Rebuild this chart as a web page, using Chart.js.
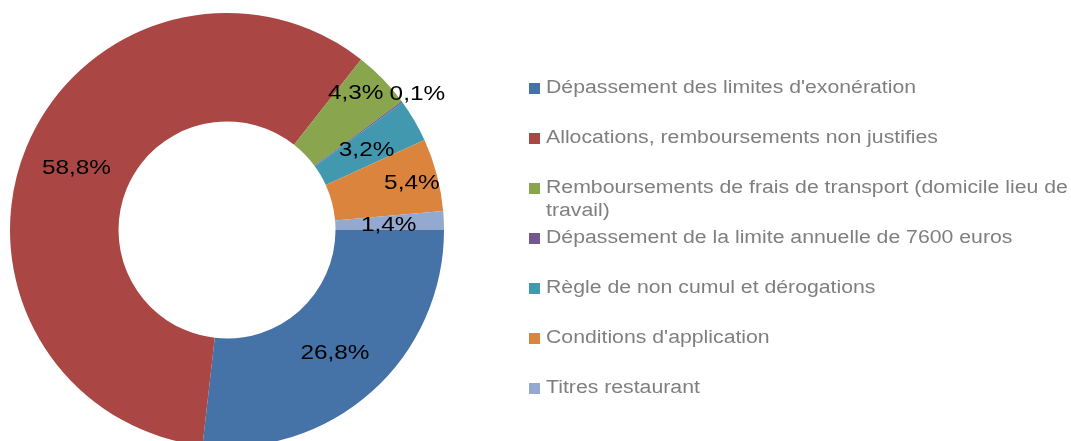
<!DOCTYPE html>
<html>
<head>
<meta charset="utf-8">
<script src="https://cdn.jsdelivr.net/npm/chart.js@4/dist/chart.umd.min.js"></script>
<style>
html, body { margin: 0; padding: 0; background: #fff; overflow: hidden; }
#wrap { position: relative; width: 1071px; height: 460px; }
</style>
</head>
<body>
<div id="wrap"><canvas id="donut"></canvas></div>
<script>
// Données du graphique
const categories = [
    "Dépassement des limites d'exonération",
    "Allocations, remboursements non justifies",
    "Remboursements de frais de transport (domicile lieu de travail)",
    "Dépassement de la limite annuelle de 7600 euros",
    "Règle de non cumul et dérogations",
    "Conditions d'application",
    "Titres restaurant"
];
const shares = [26.8, 58.8, 4.3, 0.1, 3.2, 5.4, 1.4];
const sliceColors = ['#4572A7', '#AA4643', '#89A54E', '#71588F', '#4198AF', '#DB843D', '#93A9CF'];

const FONT = '"Liberation Sans", Arial, sans-serif';

// texte un peu élargi, comme dans l'original
function wideText(ctx, txt, x, y, sx) {
    ctx.save();
    ctx.translate(x, y);
    ctx.scale(sx, 1);
    ctx.fillText(txt, 0, 0);
    ctx.restore();
}

// Étiquettes de pourcentage sur les secteurs
const sliceLabels = {
    id: 'sliceLabels',
    afterDatasetsDraw(chart, args, opts) {
        const ctx = chart.ctx;
        const meta = chart.getDatasetMeta(0);
        ctx.save();
        ctx.font = '21px ' + FONT;
        ctx.fillStyle = '#000';
        ctx.textAlign = 'center';
        ctx.textBaseline = 'middle';
        meta.data.forEach((arc, i) => {
            const p = arc.getProps(['x', 'y', 'startAngle', 'endAngle', 'innerRadius', 'outerRadius']);
            const a = (p.startAngle + p.endAngle) / 2 + (opts.angleShift[i] || 0) * Math.PI / 180;
            const r = (p.innerRadius + p.outerRadius) / 2 + (opts.radialShift[i] || 0);
            const txt = shares[i].toFixed(1).replace('.', ',') + '%';
            wideText(ctx, txt, p.x + r * Math.cos(a), p.y + r * Math.sin(a), opts.stretch);
        });
        ctx.restore();
    }
};

// Légende dessinée à droite (avec retour à la ligne)
const sideLegend = {
    id: 'sideLegend',
    afterDraw(chart, args, opts) {
        const ctx = chart.ctx;
        const sx = opts.stretch;
        const tx = opts.x + 17;
        ctx.save();
        ctx.font = '18px ' + FONT;
        ctx.textBaseline = 'middle';
        ctx.textAlign = 'left';
        categories.forEach((name, i) => {
            const y = opts.top + i * opts.step;
            ctx.fillStyle = sliceColors[i];
            ctx.fillRect(opts.x, y - 5, 11, 11);
            ctx.fillStyle = '#7F7F7F';
            // découpage en lignes
            const words = name.split(' ');
            let line = '';
            let ly = y;
            words.forEach(w => {
                const test = line ? line + ' ' + w : w;
                if (ctx.measureText(test).width * sx > opts.maxWidth && line) {
                    wideText(ctx, line, tx, ly, sx);
                    line = w;
                    ly += opts.lineHeight;
                } else {
                    line = test;
                }
            });
            wideText(ctx, line, tx, ly, sx);
        });
        ctx.restore();
    }
};

new Chart(document.getElementById('donut'), {
    type: 'doughnut',
    data: {
        labels: categories,
        datasets: [{
            data: shares,
            backgroundColor: sliceColors,
            borderWidth: 0
        }]
    },
    options: {
        responsive: true,
        maintainAspectRatio: false,
        animation: false,
        rotation: 90,
        cutout: '50%',
        layout: { padding: { left: 10, top: 13, right: 627, bottom: 13 } },
        plugins: {
            legend: { display: false },
            tooltip: { enabled: false },
            sliceLabels: {
                stretch: 1.16,
                radialShift: [1, 0, 25, 71, -2, 28, -1],
                angleShift: [0.5, 0, -2.6, 0.7, 0.5, 0.5, 0.7]
            },
            sideLegend: { x: 529, top: 88, step: 50, lineHeight: 23, maxWidth: 525, stretch: 1.18 }
        }
    },
    plugins: [sliceLabels, sideLegend]
});
</script>
</body>
</html>
